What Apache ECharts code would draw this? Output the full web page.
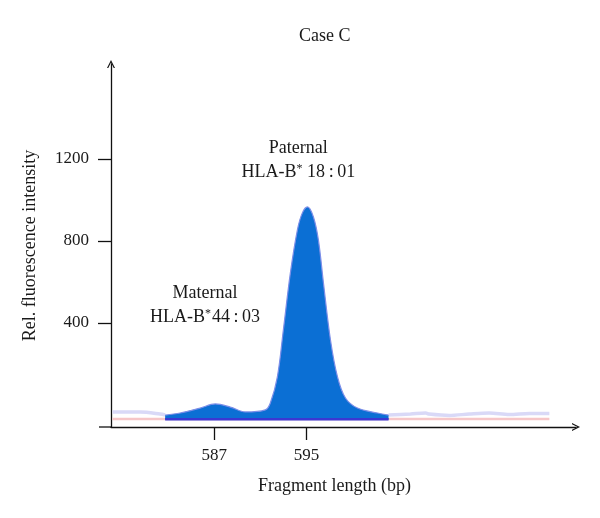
<!DOCTYPE html>
<html>
<head>
<meta charset="utf-8">
<script src="https://cdn.jsdelivr.net/npm/echarts@6/dist/echarts.min.js"></script>
<style>html,body{margin:0;padding:0;background:#fff}#c{width:600px;height:518px}</style>
</head>
<body>
<div id="c"></div>
<script>
// Data (fragment length in bp, relative fluorescence intensity)
const peakX = [582.74, 584.04, 585.78, 587.09, 588.39, 589.70, 591.43, 591.87, 592.48, 593.00, 593.61, 594.22, 594.65, 595.09, 595.61, 596.04, 596.48, 597.09, 597.70, 598.39, 599.43, 601.17, 602.13];
const peakY = [-49, -39, -15, 5, -10, -34, -24, 10, 137, 366, 644, 854, 937, 966, 917, 805, 595, 317, 137, 34, -15, -39, -49];
const traceLeftX = [578.17, 580.57, 582.30, 582.74];
const traceLeftY = [-34, -34, -44, -49];
const traceRightX = [602.13, 604.04, 605.35, 605.65, 607.39, 609.13, 610.87, 612.61, 614.35, 616.09];
const traceRightY = [-49, -44, -39, -44, -51, -44, -39, -46, -41, -41];
const refX = [578.17, 616.09];
const refY = [-68, -68];
const fillBase = -72;
const xTicks = [587, 595];
const yTicks = [400, 800, 1200];
const annoX = [594.3, 586.2];
const annoY = [1195, 488];
const annoLabel = ['{a|Paternal}\n{a|HLA-B}{s|*}{a|\u200918\u2009:\u200901}', '{a|Maternal}\n{a|HLA-B}{s|*}{a|44\u2009:\u200903}'];

const zip = (xs, ys) => xs.map((x, i) => [x, ys[i]]);
const FONT = 'Liberation Serif';
const TXT = '#1a1a1a';
const chev = 'path://M0,10 L5,0 L10,10 L8.4,10 L5,3.2 L1.6,10 Z';

const chart = echarts.init(document.getElementById('c'));
chart.setOption({
  animation: false,
  title: {text: 'Case C', left: 294, top: 22, textStyle: {fontFamily: FONT, fontSize: 18, fontWeight: 'normal', color: TXT}},
  grid: {left: 111, right: 24, top: 64, bottom: 91},
  xAxis: {
    type: 'value', min: 578.04, max: 618.4,
    name: 'Fragment length (bp)', nameLocation: 'middle', nameGap: 50,
    nameTextStyle: {fontFamily: FONT, fontSize: 18, color: TXT, padding: [0, 18, 0, 0]},
    axisLine: {show: true, onZero: false, lineStyle: {color: '#111', width: 1.3}, symbol: ['none', chev], symbolSize: [11, 8]},
    axisTick: {show: true, inside: false, length: 13, customValues: xTicks, lineStyle: {color: '#111', width: 1.3}},
    axisLabel: {customValues: xTicks, margin: 20, fontFamily: FONT, fontSize: 17, color: TXT, formatter: v => String(v)},
    splitLine: {show: false}
  },
  yAxis: {
    type: 'value', min: -107.3, max: 1663,
    name: 'Rel. fluorescence intensity', nameLocation: 'middle', nameGap: 72,
    nameTextStyle: {fontFamily: FONT, fontSize: 18, color: TXT},
    axisLine: {show: true, onZero: false, lineStyle: {color: '#111', width: 1.3}, symbol: ['none', chev], symbolSize: [11, 8]},
    axisTick: {show: true, inside: false, length: 13, customValues: yTicks, lineStyle: {color: '#111', width: 1.3}},
    axisLabel: {customValues: yTicks, margin: 22, fontFamily: FONT, fontSize: 17, color: TXT, formatter: v => String(v)},
    splitLine: {show: false}
  },
  graphic: [
    {type: 'line', shape: {x1: 99, y1: 427, x2: 111, y2: 427}, style: {stroke: '#111', lineWidth: 1.3}, z: 10}
  ],
  series: [
    {type: 'line', data: zip(refX, refY), symbol: 'none', lineStyle: {color: '#f6c6c8', width: 2.5}, z: 1},
    {type: 'line', data: zip(traceLeftX, traceLeftY), symbol: 'none', smooth: 0.3, lineStyle: {color: '#d9d9f7', width: 3.5}, z: 1},
    {type: 'line', data: zip(traceRightX, traceRightY), symbol: 'none', smooth: 0.3, lineStyle: {color: '#d9d9f7', width: 3.5}, z: 1},
    {type: 'line', data: zip(peakX, peakY), symbol: 'none', smooth: 0.35,
      lineStyle: {color: '#7c8ee8', width: 1.2},
      areaStyle: {color: '#0b6fd4', opacity: 1, origin: fillBase}, z: 2},
    {type: 'line', data: [[peakX[0], fillBase + 2], [peakX[peakX.length - 1], fillBase + 2]], symbol: 'none', lineStyle: {color: '#3b37d2', width: 2.5}, z: 3},
    {type: 'scatter', data: zip(annoX, annoY), symbolSize: 0, silent: true, itemStyle: {opacity: 1},
      label: {show: true, position: 'inside', color: TXT, fontFamily: FONT, lineHeight: 24, textBorderWidth: 0,
        formatter: p => annoLabel[p.dataIndex],
        rich: {a: {fontFamily: FONT, fontSize: 18, color: TXT, lineHeight: 24, textBorderWidth: 0},
               s: {fontFamily: FONT, fontSize: 12, color: TXT, verticalAlign: 'bottom', padding: [0, 1, 9, 0], textBorderWidth: 0}}}}
  ]
});
</script>
</body>
</html>
